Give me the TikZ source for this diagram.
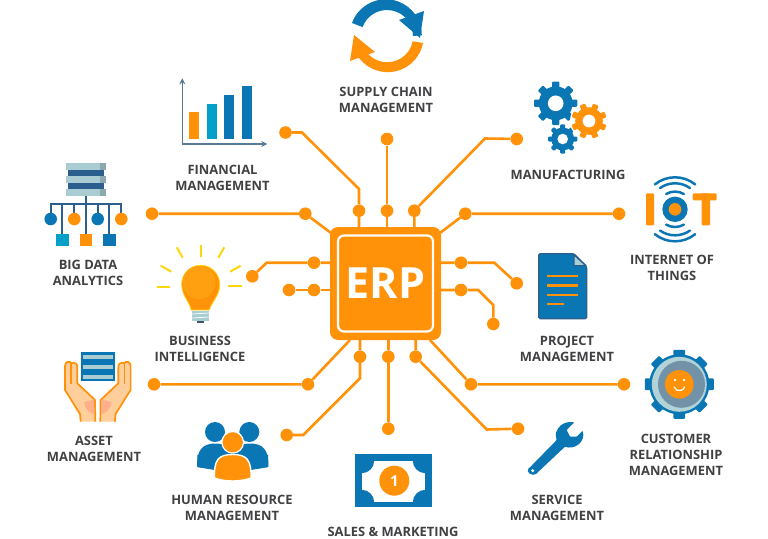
\documentclass[tikz,border=0pt]{standalone}
\usepackage{fontspec}
\setmainfont{Open Sans}
\usepackage{xcolor}
\usetikzlibrary{arrows.meta}
\definecolor{wireorange}{HTML}{FF9208}
\definecolor{bulbglow}{HTML}{FFA010}
\definecolor{iconblue}{HTML}{0A77B4}
\definecolor{deepblue}{HTML}{2B5F8E}
\definecolor{iconteal}{HTML}{00A0C8}
\definecolor{paleblue}{HTML}{A9CDD3}
\definecolor{slabgrey}{HTML}{8DA9B0}
\definecolor{steelgrey}{HTML}{5A7A94}
\definecolor{labelgrey}{HTML}{414042}
\definecolor{rayyellow}{HTML}{FFD60A}
\definecolor{handpeach}{HTML}{FFCE9B}
\definecolor{handshade}{HTML}{FFB08A}
\tikzset{
  wire/.style={draw=wireorange,line width=2.6pt},
  wiredot/.style={circle,fill=wireorange,inner sep=0pt,minimum size=12.6pt},
  caption/.style={font=\bfseries\fontsize{12.9}{16}\selectfont,text=labelgrey,align=center,inner sep=0pt},
  chipbody/.style={fill=wireorange,rounded corners=8pt,minimum width=111pt,minimum height=113pt,inner sep=0pt},
  chipcore/.style={draw=white,line width=2.2pt,fill=wireorange,rounded corners=6pt,minimum width=95pt,minimum height=96pt,inner sep=0pt,text=white,font=\bfseries\fontsize{43}{43}\selectfont},
  ray/.style={draw=rayyellow,line width=2pt},
  gearicon/.pic={
    \fill[pic actions] (0,0) circle (.78);
    \foreach \a in {0,45,...,315} {
      \fill[pic actions,rotate=\a,rounded corners=1pt] (-.17,.6) rectangle (.17,1);
    }
    \fill[white] (0,0) circle (.36);
  }
}
\begin{document}
\begin{tikzpicture}[x=1pt,y=1pt]
  \useasboundingbox (0,0) rectangle (768,-538);

  \node[chipbody] (chip) at (385.5,-283.5) {};
  \node[chipcore] (core) at (chip) {ERP};

  \node[wiredot] (finA) at (359,-210.7) {};
  \node[wiredot] (finB) at (285.5,-132.5) {};
  \node[wiredot] (supA) at (387,-210.7) {};
  \node[wiredot] (supB) at (387,-139) {};
  \node[wiredot] (manA) at (414.3,-210.7) {};
  \node[wiredot] (manB) at (516.7,-139) {};
  \node[wiredot] (bigA) at (305.3,-213.7) {};
  \node[wiredot] (bigB) at (152,-213.7) {};
  \node[wiredot] (iotA) at (465.3,-213.7) {};
  \node[wiredot] (iotB) at (619,-213.7) {};
  \node[wiredot] (busA) at (314,-262.7) {};
  \node[wiredot] (busB) at (252.3,-276.3) {};
  \node[wiredot] (stubA) at (314,-290) {};
  \node[wiredot] (stubB) at (289,-290) {};
  \node[wiredot] (proA) at (461,-262.7) {};
  \node[wiredot] (proB) at (516.7,-283.3) {};
  \node[wiredot] (lowA) at (461,-290) {};
  \node[wiredot] (lowB) at (493.3,-324) {};
  \node[wiredot] (humA) at (360,-356.7) {};
  \node[wiredot] (humB) at (286.7,-435) {};
  \node[wiredot] (salA) at (388.3,-356.7) {};
  \node[wiredot] (salB) at (388.3,-428.7) {};
  \node[wiredot] (serA) at (415.7,-356.7) {};
  \node[wiredot] (serB) at (518,-428.7) {};
  \node[wiredot] (assA) at (308,-384.3) {};
  \node[wiredot] (assB) at (154,-384.3) {};
  \node[wiredot] (cusA) at (471,-384.3) {};
  \node[wiredot] (cusB) at (624,-384.3) {};

  \coordinate (cornerNW) at (331,-233);
  \coordinate (cornerNE) at (440,-233);
  \coordinate (cornerSW) at (350,-340);
  \coordinate (cornerSE) at (430,-340);

  \draw[wire] (finB) -- (302,-132.5) -- (359,-189) -- (finA) -- (finA |- chip.north);
  \draw[wire] (supB) -- (supA) -- (supA |- chip.north);
  \draw[wire] (manB) -- (485,-138.5) -- (manA) -- (manA |- chip.north);
  \draw[wire] (bigB) -- (bigA) -- (cornerNW);
  \draw[wire] (iotB) -- (iotA) -- (cornerNE);
  \draw[wire] (busB) -- (266.7,-262.7) -- (busA) -- (busA -| chip.west);
  \draw[wire] (stubB) -- (stubA) -- (stubA -| chip.west);
  \draw[wire] (proB) -- (494.3,-262.7) -- (proA) -- (proA -| chip.east);
  \draw[wire] (lowB) -- (493.3,-305) -- (478.3,-290) -- (lowA) -- (lowA -| chip.east);
  \draw[wire] (humB) -- (303.3,-435) -- (360,-378.3) -- (humA) -- (humA |- chip.south);
  \draw[wire] (salB) -- (salA) -- (salA |- chip.south);
  \draw[wire] (serB) -- (486.7,-429.5) -- (serA) -- (serA |- chip.south);
  \draw[wire] (assB) -- (assA) -- (cornerSW);
  \draw[wire] (cusB) -- (cusA) -- (cornerSE);

  \fill[iconblue] (352,-23) arc (160:0:36) -- (413,-36) arc (0:160:26) -- cycle;
  \fill[iconblue] (424,-11) -- (420,-38) -- (399,-20) -- cycle;
  \fill[wireorange] (423,-43) arc (-11:-165:36) -- (362,-43) arc (-165:-11:26) -- cycle;
  \fill[wireorange] (354,-35) -- (350,-61) -- (375,-52) -- cycle;

  \draw[steelgrey,line width=1.6pt,-{Stealth[length=6pt,width=6pt]}] (182.3,-144) -- (182.3,-78.3);
  \draw[steelgrey,line width=1.6pt,-{Stealth[length=6pt,width=6pt]}] (182.3,-144) -- (267.3,-144);
  \fill[wireorange] (189,-112.3) rectangle (199,-139);
  \fill[iconteal] (206.7,-104.3) rectangle (216.7,-139);
  \fill[iconblue] (224.3,-95.3) rectangle (234.3,-139);
  \fill[iconblue] (242.3,-85.7) rectangle (252.3,-139);

  \fill[deepblue] (68.3,-170) rectangle (104,-189.5);
  \foreach \y/\h in {-163.3/-170.3,-176.3/-183,-189.3/-195.7} {
    \fill[paleblue] (66.3,\y) rectangle (105.7,\h);
    \fill[slabgrey] (100,\y) rectangle (105.7,\h);
  }
  \draw[deepblue,line width=2pt] (86,-195.7) -- (86,-234);
  \draw[deepblue,line width=2pt] (50.7,-219) -- (50.7,-204) -- (121.3,-204) -- (121.3,-219);
  \foreach \x in {62.3,109.3} \draw[deepblue,line width=2pt] (\x,-204) -- (\x,-234);
  \foreach \x in {74.3,97.7} \draw[deepblue,line width=2pt] (\x,-204) -- (\x,-219);
  \fill[iconblue] (50.7,-219) circle (6.3);
  \fill[wireorange] (74.3,-219) circle (6.3);
  \fill[iconblue] (97.7,-219) circle (6.3);
  \fill[wireorange] (121.3,-219) circle (6.3);
  \fill[iconteal] (56,-233.7) rectangle (68.6,-246.3);
  \fill[wireorange] (79.7,-233.7) rectangle (92.3,-246.3);
  \fill[iconblue] (103,-233.7) rectangle (115.6,-246.3);

  \draw[ray] (200.7,-245) -- (200.7,-256.7);
  \draw[ray] (176.7,-247.3) -- (182.7,-257.7);
  \draw[ray] (224.3,-247.3) -- (218.3,-257.7);
  \draw[ray] (160.7,-265.7) -- (171.3,-271.7);
  \draw[ray] (240.7,-265.7) -- (230,-271.7);
  \draw[ray] (157.3,-287.3) -- (170,-287.3);
  \draw[ray] (228.3,-286) -- (241.7,-286);
  \fill[steelgrey!70!black] (197,-320) rectangle (204,-323);
  \fill[paleblue] (191.7,-310.5) rectangle (209.3,-321);
  \draw[white,line width=.7pt] (192,-314) -- (209,-313);
  \draw[white,line width=.7pt] (192,-318) -- (209,-317);
  \draw[fill=wireorange,draw=rayyellow,line width=.8pt] (191,-310) .. controls (190,-302) and (181.7,-296) .. (181.7,-284.3) arc (180:0:19) .. controls (219.7,-296) and (211.4,-302) .. (209.3,-310) -- cycle;
  \fill[bulbglow] (199,-282.5) circle (16.5);

  \foreach \mirror/\shift in {1/0,-1/195.6} {
    \begin{scope}[xshift=\shift pt,xscale=\mirror]
      \draw[fill=handpeach,draw=wireorange,line width=1.7pt,line join=round]
        (80.7,-421.7) -- (80,-414) -- (65,-390) -- (65,-366) .. controls (65,-361) and (70,-361) .. (71,-363)
        .. controls (76,-362) and (77.3,-364) .. (77.3,-368) -- (77.3,-383.3) -- (95,-400) -- (95.3,-421.7);
      \fill[handshade] (84,-402) .. controls (84,-408) and (90,-414) .. (94.2,-414) -- (94.2,-399.5) -- cycle;
      \draw[wireorange,line width=1.2pt] (71,-363) -- (71,-384);
    \end{scope}
  }
  \fill[iconblue] (80.7,-351.7) rectangle (115,-380.7);
  \foreach \y in {-355,-365,-375} \fill[paleblue] (83,\y) rectangle (112.5,\y-3.8);

  \fill[iconblue] (197.3,-467) .. controls (196,-450) and (203,-443.5) .. (215,-443.5) .. controls (228,-443.5) and (235,-450) .. (236,-458) -- (215,-470) -- (215,-470) -- cycle;
  \fill[iconblue] (268.2,-467) .. controls (269.5,-450) and (262.5,-443.5) .. (250.5,-443.5) .. controls (237.5,-443.5) and (230.5,-450) .. (229.5,-458) -- (250.5,-470) -- cycle;
  \fill[iconblue] (197.3,-467) -- (217,-470) -- (217,-450) -- (197.3,-455) -- cycle;
  \fill[iconblue] (268.2,-467) -- (248.5,-470) -- (248.5,-450) -- (268.2,-455) -- cycle;
  \fill[iconblue] (215,-432) circle (10);
  \fill[iconblue] (249.3,-432) circle (10);
  \draw[fill=wireorange,draw=white,line width=1.4pt] (214.5,-478) .. controls (214,-460) and (218,-454.5) .. (232.7,-454.5) .. controls (247,-454.5) and (251.5,-460) .. (251,-478) .. controls (240,-482) and (225,-482) .. (214.5,-478) -- cycle;
  \draw[fill=wireorange,draw=white,line width=1.2pt] (232.7,-442.3) circle (10.8);

  \fill[iconblue] (355,-454.3) rectangle (432,-506.7);
  \fill[white] (361.7,-460.7) rectangle (425.3,-502.3);
  \begin{scope}
    \clip (361.7,-460.7) rectangle (425.3,-502.3);
    \foreach \x/\y in {361.7/-460.7,425.3/-460.7,361.7/-502.3,425.3/-502.3} \fill[iconblue] (\x,\y) circle (12.5);
  \end{scope}
  \node[circle,fill=wireorange,minimum size=30pt,inner sep=0pt,text=white,font=\bfseries\fontsize{15}{15}\selectfont] (coin) at (394.3,-480.7) {1};

  \fill[iconblue,rounded corners=.8pt] (529,-468.3) -- (556.7,-440) .. controls (555,-434) and (556,-431) .. (558.3,-428.3) .. controls (561,-424) and (567,-421) .. (574.3,-422.3) -- (566.7,-430) -- (570,-436.7) -- (576.7,-436.7) -- (582.7,-430.7) .. controls (584,-436) and (583,-440) .. (579,-444) .. controls (574,-448) and (569,-448) .. (565,-446.7) -- (536.7,-473.3) .. controls (533,-477) and (525,-472) .. (529,-468.3) -- cycle;
  \fill[white] (532.7,-470.7) circle (1.7);

  \pic[fill=iconblue,scale=21.7] at (555.7,-103.3) {gearicon};
  \pic[fill=iconblue,scale=14.7] at (562.7,-139) {gearicon};
  \fill[white] (589,-121) circle (19);
  \pic[fill=wireorange,scale=17.7,rotate=22] at (589,-121) {gearicon};

  \fill[wireorange,rounded corners=1pt] (646,-193.3) rectangle (654,-225.3);
  \fill[wireorange,rounded corners=1pt] (692.7,-193.3) rectangle (716.7,-200.3);
  \fill[wireorange,rounded corners=1pt] (701.7,-193.3) rectangle (710,-225.3);
  \fill[iconblue] (675,-209.3) circle (12.7);
  \fill[wireorange] (675,-209.3) circle (6.3);
  \foreach \r/\s in {17.7/30,26/35,32/39} {
    \draw[iconblue,line width=2.5pt,line cap=round] (675,-209.3) ++(90-\s:\r) arc (90-\s:90+\s:\r);
    \draw[iconblue,line width=2.5pt,line cap=round] (675,-209.3) ++(270-\s:\r) arc (270-\s:270+\s:\r);
  }

  \draw[fill=iconblue,draw=deepblue,line width=1.4pt,rounded corners=1.5pt] (538.7,-253.7) -- (574,-253.7) -- (586.7,-267) -- (586.7,-318.7) -- (538.7,-318.7) -- cycle;
  \draw[fill=paleblue,draw=deepblue,line width=1.4pt,line join=round] (574,-254.7) -- (574,-265.7) -- (586,-265.7) -- cycle;
  \foreach \y/\x in {-275.7/578,-285.3/578,-294.7/578,-304/564} \draw[wireorange,line width=2.4pt] (547.3,\y) -- (\x,\y);

  \fill[iconblue] (679.3,-384.3) circle (30);
  \pic[fill=iconblue,scale=34.5] at (679.3,-384.3) {gearicon};
  \fill[paleblue!90!white] (679.3,-384.3) circle (27.5);
  \fill[steelgrey!70!paleblue] (681.5,-384.3) circle (23.5);
  \fill[wireorange] (679.3,-384.3) circle (14.3);
  \fill[white] (675,-380) circle (1.3);
  \fill[white] (684,-380) circle (1.3);
  \draw[white,line width=1.2pt,line cap=round] (674,-387) arc (200:340:5.6);

  \node[caption] (supply) at (386,-100) {SUPPLY CHAIN\\MANAGEMENT};
  \node[caption] (finance) at (222.5,-178) {FINANCIAL\\MANAGEMENT};
  \node[caption] (manufacturing) at (568,-175) {MANUFACTURING};
  \node[caption] (bigdata) at (88,-273) {BIG DATA\\ANALYTICS};
  \node[caption] (business) at (200,-349) {BUSINESS\\INTELLIGENCE};
  \node[caption] (internet) at (672,-268) {INTERNET OF\\THINGS};
  \node[caption] (project) at (567,-349) {PROJECT\\MANAGEMENT};
  \node[caption] (asset) at (94,-449) {ASSET\\MANAGEMENT};
  \node[caption] (human) at (232,-508) {HUMAN RESOURCE\\MANAGEMENT};
  \node[caption] (sales) at (393,-531.5) {SALES \& MARKETING};
  \node[caption] (service) at (557,-508) {SERVICE\\MANAGEMENT};
  \node[caption] (customer) at (676,-455) {CUSTOMER\\RELATIONSHIP\\MANAGEMENT};
\end{tikzpicture}
\end{document}
